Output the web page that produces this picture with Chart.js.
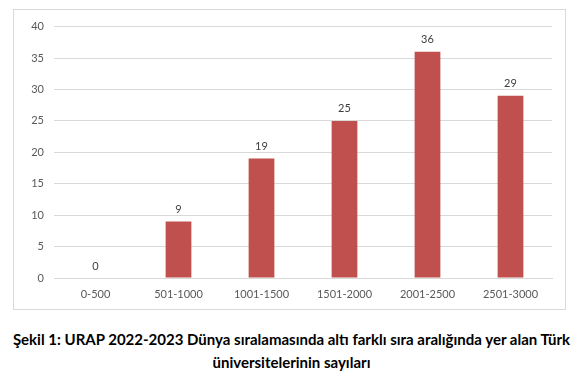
<!DOCTYPE html>
<html>
<head>
<meta charset="utf-8">
<script src="https://cdn.jsdelivr.net/npm/chart.js@4.4.0/dist/chart.umd.min.js"></script>
<style>
  html, body { margin: 0; padding: 0; background: #fff; }
  body { width: 583px; height: 382px; position: relative; overflow: hidden; }
  #kutu { position: absolute; left: 13px; top: 9px; width: 551px; height: 299px; border: 1px solid #d9d9d9; }
  #kutu canvas { display: block; }
  #baslik { position: absolute; left: 0; top: 328px; width: 583px; text-align: center;
            font-family: Lato, "Liberation Sans", sans-serif; font-weight: bold; font-size: 15px;
            line-height: 23px; color: #000; }
</style>
</head>
<body>
<div id="kutu"><canvas id="grafik" width="551" height="299"></canvas></div>
<div id="baslik">Şekil 1: URAP 2022-2023 Dünya sıralamasında altı farklı sıra aralığında yer alan Türk<br>üniversitelerinin sayıları</div>
<script>
var kategoriler = ['0-500', '501-1000', '1001-1500', '1501-2000', '2001-2500', '2501-3000'];
var universite_sayilari = [0, 9, 19, 25, 36, 29];
var y_max = 40;
var y_adim = 5;

// bar ustune degerleri yaz
var deger_etiketleri = {
  id: 'deger_etiketleri',
  afterDatasetsDraw: function(chart) {
    var ctx = chart.ctx;
    var meta = chart.getDatasetMeta(0);
    ctx.save();
    ctx.font = '11px Lato, "Liberation Sans", sans-serif';
    ctx.fillStyle = '#404040';
    ctx.textAlign = 'center';
    ctx.textBaseline = 'middle';
    meta.data.forEach(function(bar, i) {
      ctx.fillText(String(universite_sayilari[i]), bar.x, bar.y - 12);
    });
    ctx.restore();
  }
};

new Chart(document.getElementById('grafik'), {
  type: 'bar',
  data: {
    labels: kategoriler,
    datasets: [{
      data: universite_sayilari,
      backgroundColor: '#C0504D',
      borderWidth: 0,
      categoryPercentage: 1,
      barPercentage: 0.31
    }]
  },
  options: {
    responsive: false,
    animation: false,
    layout: { padding: { top: 14, right: 13, left: 0, bottom: 0 } },
    plugins: { legend: { display: false }, tooltip: { enabled: false } },
    scales: {
      x: {
        grid: { display: false, drawTicks: false },
        border: { display: true, color: '#d9d9d9', width: 1 },
        ticks: { color: '#595959', font: { family: 'Lato, "Liberation Sans", sans-serif', size: 11 }, padding: 10 },
        afterFit: function(scale) { scale.height = 31; }
      },
      y: {
        min: 0,
        max: y_max,
        grid: { color: '#d9d9d9', drawTicks: false },
        border: { display: false },
        ticks: { stepSize: y_adim, color: '#595959', font: { family: 'Lato, "Liberation Sans", sans-serif', size: 11 }, padding: 10 },
        afterFit: function(scale) { scale.width = 40; }
      }
    }
  },
  plugins: [deger_etiketleri]
});
</script>
</body>
</html>
